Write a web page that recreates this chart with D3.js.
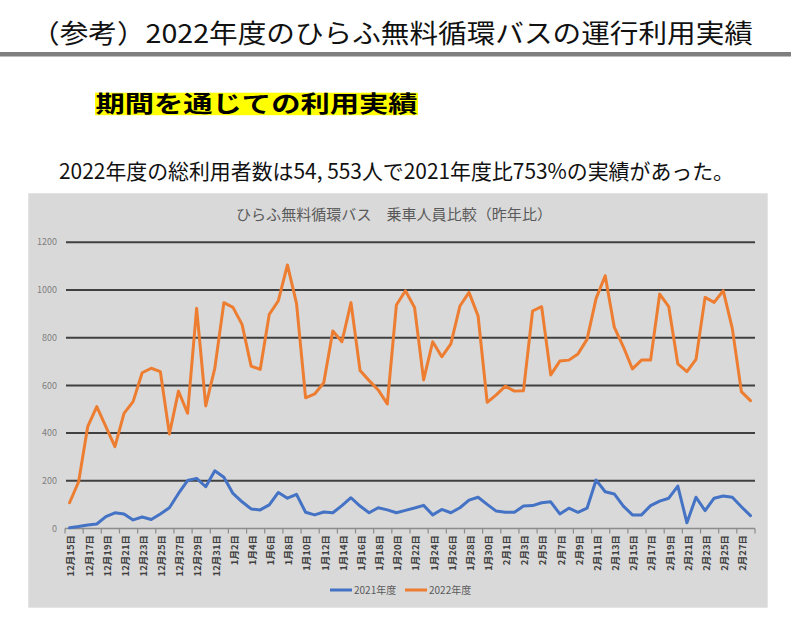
<!DOCTYPE html>
<html><head><meta charset="utf-8">
<script src="https://cdn.jsdelivr.net/npm/d3@7"></script>
<style>
body{margin:0;background:#fff;}
svg{display:block;font-family:"Noto Sans CJK JP","Noto Sans",sans-serif;}
</style>
</head><body><svg id="c" width="791" height="625"></svg>
<script>
const categories = [
 "12月15日","12月16日","12月17日","12月18日","12月19日","12月20日","12月21日","12月22日","12月23日","12月24日",
 "12月25日","12月26日","12月27日","12月28日","12月29日","12月30日","12月31日",
 "1月1日","1月2日","1月3日","1月4日","1月5日","1月6日","1月7日","1月8日","1月9日","1月10日",
 "1月11日","1月12日","1月13日","1月14日","1月15日","1月16日","1月17日","1月18日","1月19日","1月20日",
 "1月21日","1月22日","1月23日","1月24日","1月25日","1月26日","1月27日","1月28日","1月29日","1月30日","1月31日",
 "2月1日","2月2日","2月3日","2月4日","2月5日","2月6日","2月7日","2月8日","2月9日","2月10日",
 "2月11日","2月12日","2月13日","2月14日","2月15日","2月16日","2月17日","2月18日","2月19日","2月20日",
 "2月21日","2月22日","2月23日","2月24日","2月25日","2月26日","2月27日","2月28日"
];
const series2021 = [
 3,8,15,19,50,66,61,36,48,38,
 61,87,147,201,210,175,242,215,147,112,
 82,78,99,151,127,143,68,57,69,66,
 96,129,94,66,87,78,66,76,86,97,
 57,80,66,87,119,131,101,73,68,68,
 94,96,108,112,61,85,68,85,203,154,
 145,94,57,57,96,115,127,178,24,131,
 75,127,136,131,91,54
];
const series2022 = [
 108,196,427,511,427,343,483,532,653,672,
 658,396,576,483,923,514,672,947,927,856,
 681,667,898,955,1105,944,548,564,611,828,
 783,947,662,620,581,522,937,997,927,623,
 783,720,774,933,990,891,529,560,597,576,
 578,912,930,644,702,706,732,793,965,1060,
 844,762,669,706,706,983,930,690,658,709,
 969,948,997,839,574,536
];
const seriesNames = ["2021年度","2022年度"];
const seriesColors = ["#4472C4","#ED7D31"];
const yTicks = [0,200,400,600,800,1000,1200];
const headingText = "（参考）2022年度のひらふ無料循環バスの運行利用実績";
const subheadText = "期間を通じての利用実績";
const summaryText = "2022年度の総利用者数は54, 553人で2021年度比753%の実績があった。";
const chartTitleText = "ひらふ無料循環バス　乗車人員比較（昨年比）";

const svg = d3.select("#c");
svg.append("rect").attr("width",791).attr("height",625).attr("fill","#fff");

// heading
svg.append("text").attr("x",31).attr("y",42.5)
  .attr("font-size",26).attr("fill","#111")
  .attr("textLength",722).attr("lengthAdjust","spacingAndGlyphs")
  .text(headingText);
svg.append("rect").attr("x",0).attr("y",52).attr("width",791).attr("height",4.5).attr("fill","#7f7f7f");

// subheading
svg.append("rect").attr("x",95).attr("y",92.7).attr("width",323).attr("height",22.5).attr("fill","#ffff00");
svg.append("text").attr("x",95.5).attr("y",111.8)
  .attr("font-size",22.5).attr("font-weight","bold").attr("fill","#000")
  .attr("textLength",322).attr("lengthAdjust","spacingAndGlyphs")
  .text(subheadText);

// summary
svg.append("text").attr("x",59).attr("y",179)
  .attr("font-size",21).attr("fill","#111")
  .attr("textLength",675).attr("lengthAdjust","spacingAndGlyphs")
  .text(summaryText);

// chart area
svg.append("rect").attr("x",28.3).attr("y",193.3).attr("width",739.4).attr("height",414.4).attr("fill","#d9d9d9");
svg.append("text").attr("x",236).attr("y",219.5)
  .attr("font-size",14.5).attr("fill","#595959")
  .attr("textLength",316).attr("lengthAdjust","spacingAndGlyphs")
  .text(chartTitleText);

const x = d3.scaleBand().domain(categories).range([65,755]).padding(0);
const bw = x.bandwidth();
const cx = c => x(c) + bw/2;
const y = d3.scaleLinear().domain([0,1200]).range([528.5,242.3]);

// gridlines
svg.append("g").selectAll("line").data(yTicks.filter(t=>t>0)).join("line")
  .attr("x1",66).attr("x2",755).attr("y1",d=>y(d)).attr("y2",d=>y(d))
  .attr("stroke","#404040").attr("stroke-width",2);

// y labels
svg.append("g").selectAll("text").data(yTicks).join("text")
  .attr("x",57).attr("y",d=>y(d)).attr("dy","0.35em")
  .attr("text-anchor","end").attr("font-size",9).attr("fill","#7f7f7f")
  .text(d=>d);

// x axis
svg.append("line").attr("x1",65).attr("x2",755).attr("y1",y(0)).attr("y2",y(0))
  .attr("stroke","#8c8c8c").attr("stroke-width",1.3);
const tickCats = categories.filter((d,i)=>i%2===0);
const tickPos = tickCats.map(c=>x(c)).concat([x.range()[1]]);
svg.append("g").selectAll("line").data(tickPos).join("line")
  .attr("x1",d=>d).attr("x2",d=>d).attr("y1",y(0)).attr("y2",y(0)+5)
  .attr("stroke","#8c8c8c").attr("stroke-width",1.2);
svg.append("g").selectAll("text").data(tickCats).join("text")
  .attr("transform",d=>`translate(${cx(d)+1.5},535) rotate(-90)`)
  .attr("dy","0.35em").attr("text-anchor","end")
  .attr("font-size",9.5).attr("font-weight","bold").attr("fill","#404040")
  .text(d=>d);

// lines
const line = d3.line().x((d,i)=>cx(categories[i])).y(d=>y(d));
[series2021, series2022].forEach((s,k)=>{
  svg.append("path").datum(s).attr("d",line)
    .attr("fill","none").attr("stroke",seriesColors[k]).attr("stroke-width",3)
    .attr("stroke-linejoin","round").attr("stroke-linecap","round");
});

// legend
const legX = [330,405];
seriesNames.forEach((n,k)=>{
  svg.append("line").attr("x1",legX[k]).attr("x2",legX[k]+22).attr("y1",590).attr("y2",590)
    .attr("stroke",seriesColors[k]).attr("stroke-width",3);
  svg.append("text").attr("x",legX[k]+24).attr("y",590).attr("dy","0.35em")
    .attr("font-size",10).attr("fill","#595959").text(n);
});
</script>
</body></html>
